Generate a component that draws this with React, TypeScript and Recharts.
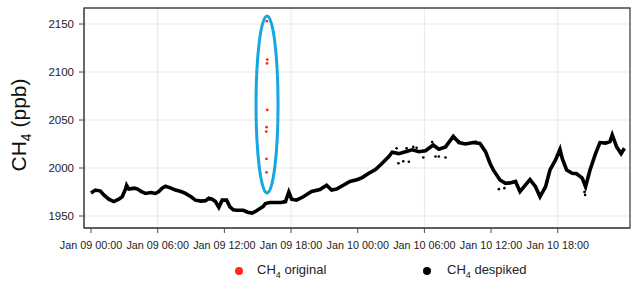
import React from 'react';
import {
  ComposedChart, Line, Scatter, XAxis, YAxis, CartesianGrid, ReferenceArea
} from 'recharts';

// hours since Jan 09 00:00
const despikedHours = [
  0.0, 0.4, 0.85, 1.15, 1.6, 2.05, 2.5, 2.8, 3.1, 3.2, 3.4, 3.9, 4.2, 4.5, 4.9, 5.4, 5.8,
  6.1, 6.4, 6.7, 7.2, 7.6, 8.1, 8.5, 9.0, 9.4, 9.9, 10.3, 10.6, 10.9, 11.2, 11.5, 11.8,
  12.2, 12.5, 12.8, 13.1, 13.7, 14.1, 14.5, 14.9, 15.1, 15.5, 15.7, 16.1, 16.7, 17.1, 17.5,
  17.8, 18.05, 18.5, 19.1, 19.85, 20.6, 21.2, 21.65, 22.1, 22.7, 23.3, 24.0, 24.4, 25.0,
  25.6, 26.2, 26.8, 27.1, 27.7, 28.3, 28.9, 29.5, 30.1, 30.8, 31.3, 31.9, 32.6, 33.1, 33.7,
  34.4, 35.0, 35.5, 35.9, 36.2, 36.8, 37.3, 37.7, 38.2, 38.6, 39.1, 39.5, 40.0, 40.4, 40.9,
  41.3, 41.8, 42.2, 42.4, 42.8, 43.3, 43.7, 44.2, 44.5, 44.9, 45.4, 45.8, 46.3, 46.7, 46.9,
  47.3, 47.7, 48.0
];
const despikedValues = [
  1974, 1977, 1976, 1972, 1967.5, 1965, 1967.5, 1970, 1978, 1982, 1978, 1979, 1978, 1975.5,
  1973.5, 1974.5, 1973.5, 1975.5, 1979, 1981, 1979, 1977, 1975.5, 1973.5, 1970, 1966.5,
  1965.5, 1966, 1968.5, 1967.5, 1965, 1959, 1966.5, 1966.5, 1959.5, 1956.5, 1956, 1956, 1954,
  1953, 1955.5, 1957, 1960, 1963, 1964, 1964, 1964, 1965, 1975, 1967.5, 1966.5, 1970, 1975.5,
  1977.5, 1982, 1977, 1978, 1982, 1986, 1988, 1990, 1994.5, 1998.5, 2005, 2012, 2016.5, 2015,
  2017, 2019, 2017, 2018, 2024, 2019.5, 2022, 2033, 2026.5, 2025, 2026.5, 2025.5, 2017, 2005,
  1998, 1987.5, 1984, 1984.5, 1986, 1975.5, 1982.5, 1988, 1980.5, 1970, 1980.5, 1998, 2008.5,
  2019.5, 2010, 1998, 1994.5, 1994, 1989.5, 1980.5, 1998, 2015, 2026.5, 2026, 2027.5, 2034.5,
  2022, 2015, 2020.5
];

// scattered despiked points off the main band
const strayHours = [
  27.5, 27.66, 28.1, 28.4, 28.6, 29.0, 29.3, 29.9, 30.7, 31.0, 31.3, 31.9, 33.1, 33.7, 34.6,
  36.7, 37.2, 44.4, 44.46
];
const strayValues = [
  2020.5, 2005, 2007, 2020.5, 2006.5, 2022, 2021, 2011, 2027, 2012, 2012, 2011, 2028, 2025.5,
  2027.5, 1978, 1979, 1975, 1972
];

// spikes removed by the filter
const originalHours = [15.82, 15.86, 15.84, 15.86, 15.8, 15.77, 15.79, 15.79];
const originalValues = [2153, 2113, 2109, 2060.5, 2042.5, 2038, 2009.5, 1995.5];

const tickHours = [0, 6, 12, 18, 24, 30, 36, 42];
const tickLabels = [
  'Jan 09 00:00', 'Jan 09 06:00', 'Jan 09 12:00', 'Jan 09 18:00',
  'Jan 10 00:00', 'Jan 10 06:00', 'Jan 10 12:00', 'Jan 10 18:00'
];
const yTicks = [1950, 2000, 2050, 2100, 2150];

const despiked = despikedHours.map((h, i) => ({ h, v: despikedValues[i] }));
const stray = strayHours.map((h, i) => ({ h, v: strayValues[i] }));
const original = originalHours.map((h, i) => ({ h, v: originalValues[i] }));

const X_DOMAIN = [-0.63, 48.5];
const Y_DOMAIN = [1937.5, 2166.7];
const FONT = '"Liberation Sans", Arial, sans-serif';
const FRAME = '#4a4a4a';

const Ellipse = (props: any) => {
  const { x, y, width, height } = props;
  return (
    <ellipse
      cx={x + width / 2}
      cy={y + height / 2}
      rx={width / 2}
      ry={height / 2}
      fill="none"
      stroke="#17a6e2"
      strokeWidth={3}
    />
  );
};

export default function App() {
  return (
    <div style={{ position: 'absolute', left: 0, top: 0, width: 631, height: 285, background: '#fff', fontFamily: FONT }}>
      <ComposedChart
        width={631}
        height={285}
        margin={{ top: 8, right: 0, left: 0, bottom: 35 }}
      >
        <CartesianGrid stroke="#e8e8e8" strokeWidth={1} />
        <XAxis
          dataKey="h"
          type="number"
          domain={X_DOMAIN}
          ticks={tickHours}
          tickFormatter={(h: number) => tickLabels[tickHours.indexOf(h)]}
          height={22}
          allowDataOverflow
          stroke={FRAME}
          tickSize={5}
          tickMargin={8}
          tick={{ fill: '#222', fontSize: 10.8, fontFamily: FONT }}
        />
        <XAxis
          xAxisId="top"
          orientation="top"
          dataKey="h"
          type="number"
          domain={X_DOMAIN}
          ticks={tickHours}
          height={0}
          allowDataOverflow
          stroke={FRAME}
          tickSize={7}
          tick={false}
        />
        <YAxis
          type="number"
          domain={Y_DOMAIN}
          ticks={yTicks}
          width={84}
          allowDataOverflow
          stroke={FRAME}
          tickSize={5}
          tickMargin={5}
          tick={{ fill: '#222', fontSize: 11.5, fontFamily: FONT }}
          label={{
            content: () => (
              <text
                transform="translate(26,125) rotate(-90)"
                textAnchor="middle"
                fontSize={21}
                fontFamily={FONT}
                fill="#111"
              >
                CH<tspan fontSize={14} dy={5}>4</tspan><tspan dy={-5}> (ppb)</tspan>
              </text>
            )
          }}
        />
        <YAxis
          yAxisId="right"
          orientation="right"
          width={1}
          tick={false}
          tickLine={false}
          axisLine={false}
        />
        <ReferenceArea
          x1={X_DOMAIN[0]}
          x2={X_DOMAIN[1]}
          y1={Y_DOMAIN[0]}
          y2={Y_DOMAIN[1]}
          fill="none"
          stroke={FRAME}
          strokeWidth={1.3}
        />
        <Line
          data={despiked}
          dataKey="v"
          stroke="#000"
          strokeWidth={3.6}
          dot={false}
          isAnimationActive={false}
        />
        <Scatter
          data={stray}
          dataKey="v"
          fill="#000"
          shape={(p: any) => <circle cx={p.cx} cy={p.cy} r={1.3} fill="#000" />}
          isAnimationActive={false}
        />
        <Scatter
          data={original}
          dataKey="v"
          fill="#ff2a1a"
          shape={(p: any) => <circle cx={p.cx} cy={p.cy} r={1.4} fill="#ff2a1a" />}
          isAnimationActive={false}
        />
        <ReferenceArea
          x1={14.85}
          x2={16.83}
          y1={1974}
          y2={2158.3}
          shape={Ellipse}
        />
      </ComposedChart>
      <div style={{ position: 'absolute', top: 262, left: 235, fontSize: 13, color: '#222', display: 'flex', alignItems: 'center' }}>
        <span style={{ width: 8, height: 8, borderRadius: 4, background: '#ff2a1a', display: 'inline-block', marginRight: 14 }} />
        <span>CH<sub style={{ fontSize: 9 }}>4</sub> original</span>
      </div>
      <div style={{ position: 'absolute', top: 262, left: 423, fontSize: 13, color: '#222', display: 'flex', alignItems: 'center' }}>
        <span style={{ width: 8, height: 8, borderRadius: 4, background: '#000', display: 'inline-block', marginRight: 16 }} />
        <span>CH<sub style={{ fontSize: 9 }}>4</sub> despiked</span>
      </div>
    </div>
  );
}
